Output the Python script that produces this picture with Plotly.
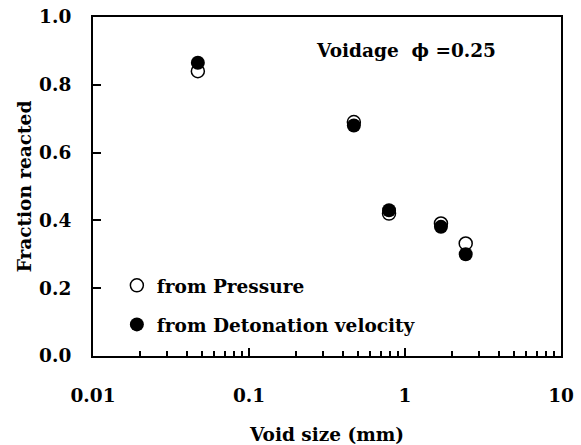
import plotly.graph_objects as go

# Void size (mm) of each test charge
void_size_mm = [0.047, 0.47, 0.79, 1.70, 2.45]
# Fraction reacted derived from the measured pressure
frac_pressure = [0.840, 0.690, 0.420, 0.391, 0.332]
# Fraction reacted derived from the detonation velocity
frac_detonation = [0.865, 0.680, 0.430, 0.381, 0.300]

x_tick_vals = [0.01, 0.1, 1, 10]
x_tick_text = ["0.01", "0.1", "1", "10"]
y_tick_vals = [0.0, 0.2, 0.4, 0.6, 0.8, 1.0]
y_tick_text = ["0.0", "0.2", "0.4", "0.6", "0.8", "1.0"]

FONT = dict(family="DejaVu Serif", size=18.5, color="black", weight="bold")

fig = go.Figure()
fig.add_trace(go.Scatter(
    x=void_size_mm, y=frac_pressure, mode="markers",
    name="from Pressure", legendgroup="p",
    marker=dict(symbol="circle", size=13, color="white",
                line=dict(color="black", width=1.5)),
))
fig.add_trace(go.Scatter(
    x=void_size_mm, y=frac_detonation, mode="markers",
    name="from Detonation velocity", legendgroup="d",
    marker=dict(symbol="circle", size=14, color="black",
                line=dict(color="black", width=0)),
))

fig.update_layout(
    width=581, height=445,
    margin=dict(l=93, r=20, t=17, b=89),
    paper_bgcolor="white", plot_bgcolor="white",
    font=FONT,
    showlegend=True,
    legend=dict(
        x=0.051, y=0.263, xanchor="left", yanchor="top",
        bgcolor="rgba(0,0,0,0)", borderwidth=0,
        font=FONT, itemwidth=30, tracegroupgap=12,
        traceorder="grouped",
    ),
    annotations=[dict(
        x=0.668, y=0.90, xref="paper", yref="paper",
        xanchor="center", yanchor="middle", showarrow=False,
        text="Voidage  ϕ =0.25", font=FONT,
    )],
)

fig.update_xaxes(
    type="log", range=[-2, 1], automargin=False,
    tickvals=x_tick_vals, ticktext=x_tick_text,
    ticks="inside", ticklen=8, tickwidth=1.5, tickcolor="black",
    minor=dict(ticks="inside", ticklen=5, tickwidth=1.5, tickcolor="black",
               dtick="D1", showgrid=False),
    showline=True, linewidth=2, linecolor="black", mirror=True,
    showgrid=False, zeroline=False,
    ticklabelstandoff=22,
    title=dict(text="Void size (mm)", font=FONT, standoff=23),
)
fig.update_yaxes(
    range=[0, 1], automargin=False,
    tickvals=y_tick_vals, ticktext=y_tick_text,
    ticks="inside", ticklen=8, tickwidth=1.5, tickcolor="black",
    showline=True, linewidth=2, linecolor="black", mirror=True,
    showgrid=False, zeroline=False,
    ticklabelstandoff=16,
    title=dict(text="Fraction reacted", font=FONT, standoff=3),
)

fig.write_html("out.html")
